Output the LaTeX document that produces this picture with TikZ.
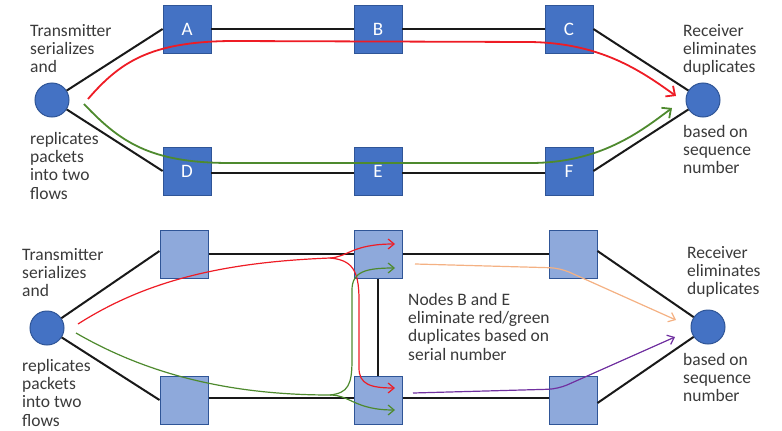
\documentclass[tikz,border=0pt]{standalone}
\usepackage{fontspec}
\setmainfont{Carlito}
\usetikzlibrary{arrows.meta}
\definecolor{nodeblue}{HTML}{4472C4}
\definecolor{lightblue}{HTML}{8EA9DB}
\definecolor{edgeblue}{HTML}{2F5597}
\definecolor{flowred}{HTML}{EE1C25}
\definecolor{flowgreen}{HTML}{4E8A2E}
\definecolor{floworange}{HTML}{F4B183}
\definecolor{flowpurple}{HTML}{7030A0}
\definecolor{txt}{HTML}{3A3A3A}
\begin{document}
\begin{tikzpicture}[x=1pt,y=-1pt,
    host/.style={draw=edgeblue,fill=nodeblue,circle,minimum size=34pt,inner sep=0pt,line width=1pt},
    sw/.style={draw=edgeblue,fill=nodeblue,minimum size=48pt,inner sep=0pt,line width=0.8pt,text=white,font=\fontsize{19}{19}\selectfont},
    lsw/.style={draw=edgeblue,fill=lightblue,minimum size=48pt,inner sep=0pt,line width=1pt},
    lbl/.style={anchor=north west,align=left,inner sep=0pt,text=txt,font=\fontsize{17.5}{18.3}\selectfont},
    link/.style={line width=2pt,black!90},
    flow/.style={line width=1.8pt,-{Straight Barb[length=7pt,width=13pt]}},
    sflow/.style={line width=1.2pt,-{Straight Barb[length=6pt,width=10pt]}}]
    \useasboundingbox (0,0) rectangle (782,431);

    % top: end-to-end elimination
    \node[host] (tx1) at (52,100) {};
    \node[sw] (A) at (187,29) {A};
    \node[sw] (B) at (378,29) {B};
    \node[sw] (C) at (569,29) {C};
    \node[sw] (D) at (187,171) {D};
    \node[sw] (E) at (378,171) {E};
    \node[sw] (F) at (569,171) {F};
    \node[host] (rx1) at (703,100) {};

    \draw[link] (tx1) -- (A.west);
    \draw[link] (tx1) -- (D.west);
    \draw[link] (A) -- (B);
    \draw[link] (B) -- (C);
    \draw[link] ([yshift=-2pt]D.east) -- ([yshift=-2pt]E.west);
    \draw[link] ([yshift=-2pt]E.east) -- ([yshift=-2pt]F.west);
    \draw[link] (C.east) -- (rx1);
    \draw[link] (F.east) -- (rx1);

    \node[lbl] (txt1) at (30,24) {Transmitter\\serializes\\and};
    \node[lbl] (txb1) at (30,132) {replicates\\packets\\into two\\flows};
    \node[lbl] (rxt1) at (683,24) {Receiver\\eliminates\\duplicates};
    \node[lbl] (rxb1) at (683,125) {based on\\sequence\\number};

    \coordinate (r1s) at (88,99);
    \coordinate (r1e) at (676,96);
    \coordinate (g1s) at (84,104);
    \coordinate (g1e) at (672,108);
    \draw[flow,flowred] (r1s) .. controls (120,62) and (150,42) .. (230,41)
        -- (530,42) .. controls (600,43) and (640,70) .. (r1e);
    \draw[flow,flowgreen] (g1s) .. controls (120,142) and (150,163) .. (230,163)
        -- (530,163) .. controls (600,163) and (640,132) .. (g1e);

    % bottom: elimination in B and E
    \node[host] (tx2) at (47,328) {};
    \node[lsw] (A2) at (184,254) {};
    \node[lsw] (B2) at (378,254) {};
    \node[lsw] (C2) at (573,254) {};
    \node[lsw] (D2) at (184,400) {};
    \node[lsw] (E2) at (378,400) {};
    \node[lsw] (F2) at (573,400) {};
    \node[host] (rx2) at (708,327) {};

    \draw[link] (tx2) -- ([yshift=3pt]A2.west);
    \draw[link] (tx2) -- (D2.west);
    \draw[link] (A2) -- (B2);
    \draw[link] (B2) -- (C2);
    \draw[link] ([yshift=2pt]D2.east) -- ([yshift=2pt]E2.west);
    \draw[link] ([yshift=2pt]E2.east) -- ([yshift=2pt]F2.west);
    \draw[link] (B2) -- (E2);
    \draw[link] ([yshift=3pt]C2.east) -- (rx2);
    \draw[link] ([yshift=-3pt]F2.east) -- (rx2);

    \node[lbl] (txt2) at (22,248) {Transmitter\\serializes\\and};
    \node[lbl] (txb2) at (22,359) {replicates\\packets\\into two\\flows};
    \node[lbl] (rxt2) at (687,246) {Receiver\\eliminates\\duplicates};
    \node[lbl] (rxb2) at (683,353) {based on\\sequence\\number};
    \node[lbl] (note) at (408,293) {Nodes B and E\\eliminate red/green\\duplicates based on\\serial number};

    \coordinate (r2s) at (78,324);
    \coordinate (r2m) at (330,258);
    \coordinate (g2s) at (76,333);
    \coordinate (g2m) at (330,395);
    \draw[sflow,flowred] (r2s) .. controls (150,278) and (230,262) .. (r2m)
        .. controls (348,257) and (352,244) .. (395,244);
    \draw[sflow,flowred] (r2m) .. controls (352,260) and (359,270) .. (359,300)
        -- (359,368) .. controls (359,384) and (370,388) .. (395,388);
    \draw[sflow,flowgreen] (g2s) .. controls (140,370) and (220,395) .. (g2m)
        .. controls (350,395) and (355,410) .. (395,410);
    \draw[sflow,flowgreen] (g2m) .. controls (348,393) and (352,385) .. (352,360)
        -- (352,290) .. controls (352,272) and (365,268) .. (395,268);
    \draw[sflow,floworange,rounded corners=10pt] (415,264) -- (560,268) -- (676,320);
    \draw[sflow,flowpurple,rounded corners=10pt] (413,393) -- (558,389) -- (675,337);
\end{tikzpicture}
\end{document}
